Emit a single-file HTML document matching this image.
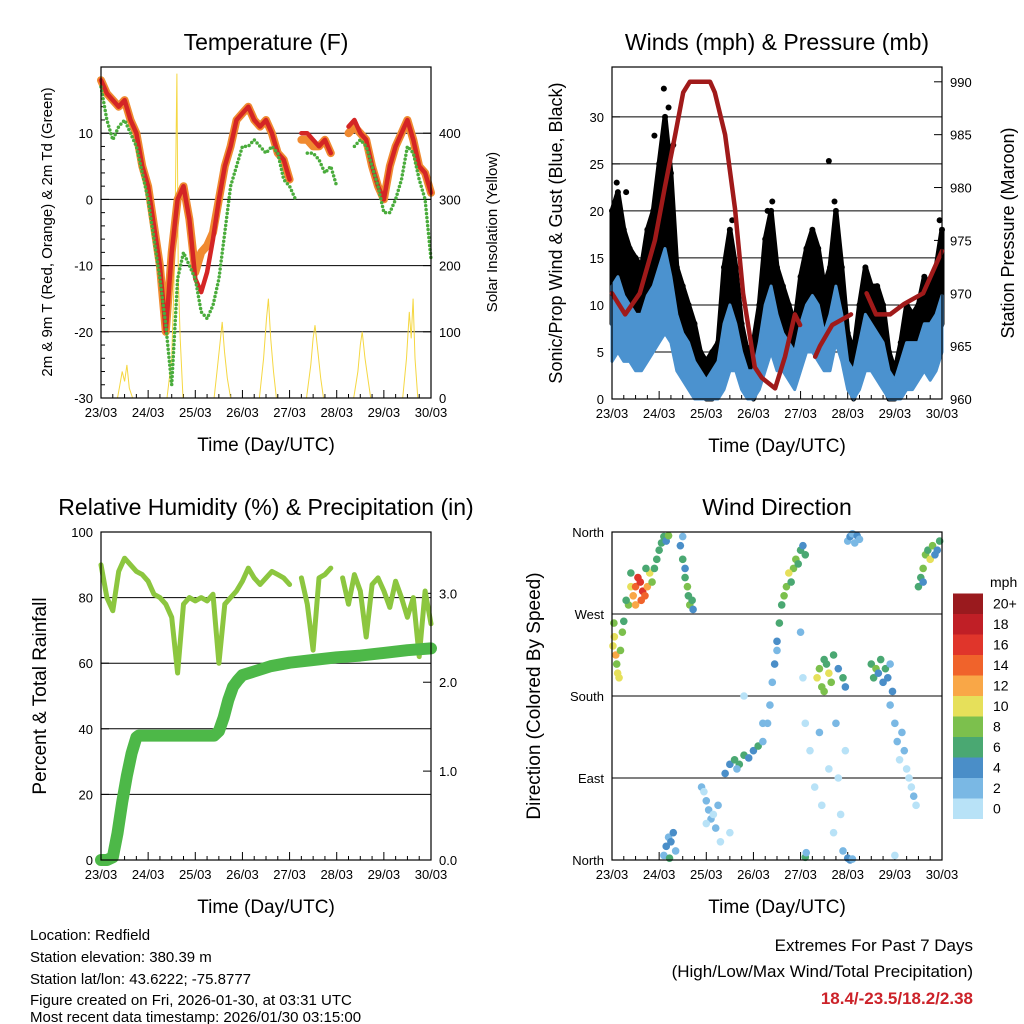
<!DOCTYPE html>
<html><head><meta charset="utf-8"><style>
body{margin:0;background:#fff}
svg{display:block;font-family:"Liberation Sans",sans-serif}
</style></head><body>
<svg id="fig" width="1024" height="1024" viewBox="0 0 1024 1024" xmlns="http://www.w3.org/2000/svg">
<g id="g1"></g>
<g id="g2"></g>
<g id="g3"></g>
<g id="g4"></g>
<g font-size="15" fill="#000">
<text x="30" y="940">Location: Redfield</text>
<text x="30" y="962">Station elevation: 380.39 m</text>
<text x="30" y="984">Station lat/lon: 43.6222; -75.8777</text>
<text x="30" y="1005">Figure created on Fri, 2026-01-30, at 03:31 UTC</text>
<text x="30" y="1026" dy="-4">Most recent data timestamp: 2026/01/30 03:15:00</text>
</g>
<g font-size="17" text-anchor="end">
<text x="973" y="951">Extremes For Past 7 Days</text>
<text x="973" y="977">(High/Low/Max Wind/Total Precipitation)</text>
<text x="973" y="1004" fill="#cc2229" font-weight="bold">18.4/-23.5/18.2/2.38</text>
</g>
</svg>
<script>
// ---------- data ----------
const dayLabels = ["23/03","24/03","25/03","26/03","27/03","28/03","29/03","30/03"];
const tempT = [0,0.125,0.25,0.375,0.5,0.625,0.75,0.875,1,1.125,1.25,1.375,1.5,1.625,1.75,1.875,2,2.125,2.25,2.375,2.5,2.625,2.75,2.875,3,3.125,3.25,3.375,3.5,3.625,3.75,3.875,4,4.125,4.25,4.375,4.5,4.625,4.75,4.875,5,5.125,5.25,5.375,5.5,5.625,5.75,5.875,6,6.125,6.25,6.375,6.5,6.625,6.75,6.875,7];
const temp2m = [18,16,15,14,15,12,10,5,2,-4,-10,-20,-8,0,2,-3,-12,-14,-11,-6,0,5,8,12,13,14,12,11,12,10,7,6,3,null,10,10,9,8,9,7,null,null,11,12,10,9,5,2,0,5,8,10,12,9,5,4,1];
const temp9m = [18,16,15,14,15,12,10,5,2,-4,-10,-20,-8,0,2,-3,-11,-8,-7,-5,0,5,8,12,13,14,12,11,12,10,7,6,3,null,9,9,8,8,9,7,null,null,10,11,10,9,5,2,0,5,8,10,12,9,5,4,1];
const dew2m = [17,12,9,11,12,10,8,4,0,-6,-12,-19,-28,-12,-8,-10,-12,-17,-18,-16,-12,-5,2,5,8,8,9,8,7,8,7,3,2,0,null,7,7,6,4,5,2,null,null,8,9,8,5,2,-2,-2,0,3,8,7,3,0,-9];
const solarT = [0.35,0.4,0.45,0.5,0.55,0.6,0.67, 1.4,1.5,1.56,1.61,1.64,1.68,1.74, 2.4,2.46,2.52,2.57,2.62,2.68,2.75, 3.36,3.45,3.51,3.55,3.6,3.66,3.72, 4.36,4.45,4.5,4.54,4.6,4.66,4.72, 5.36,5.45,5.5,5.54,5.6,5.66,5.72, 6.4,6.48,6.54,6.58,6.62,6.66,6.72];
const solarV = [0,20,40,25,50,15,0, 0,60,200,490,180,90,0, 0,40,80,115,70,30,0, 0,60,120,150,90,40,0, 0,50,90,110,70,30,0, 0,40,80,100,60,30,0, 0,60,130,90,150,60,0];
const gustHi = [20,22,18,16,15,14,18,20,25,30,24,14,12,10,8,5,4,5,6,14,18,14,8,5,6,10,17,20,14,12,10,8,13,16,18,16,12,14,20,14,7,5,10,14,12,12,10,5,3,6,10,9,10,13,12,14,18];
const gustLo = [8,9,8,7,6,6,7,8,10,12,10,6,5,3,1,0.5,0,0,1,3,5,6,3,1,0,2,5,8,6,5,3,3,5,8,8,7,5,6,10,6,2,0,3,5,5,4,2,0,0,1,3,3,3,5,4,6,8];
const sonicHi = [12,13,11,10,9,9,11,12,14,16,13,9,7,6,4,3,2,3,4,8,10,8,5,3,3,6,10,12,9,7,6,5,8,10,11,10,7,9,12,9,4,3,6,9,8,7,6,3,2,4,6,6,6,8,8,9,11];
const sonicLo = [4,5,4,4,3,3,4,5,6,7,6,3,2,1,0,0,0,0,0,1,3,3,1,0,0,1,3,5,3,3,2,1,3,5,5,4,3,3,6,4,1,0,1,3,3,2,1,0,0,0,1,1,2,3,2,3,5];
const gustPeakT = [0.1,0.3,0.9,1.05,1.1,1.2,1.3,2.55,3.3,3.4,4.6,4.72,6.95];
const gustPeakV = [23,22,28,26,33,31,27,19,20,21,25.3,21,19];
const presT = [0,0.28,0.59,0.91,1.12,1.34,1.51,1.65,2.08,2.18,2.4,2.61,2.78,3.03,3.18,3.46,3.67,3.88,3.99,null,4.31,4.41,4.67,5.07,null,5.4,5.6,5.9,6.2,6.6,7.0];
const presV = [970,968,970,975,980,985,989,990,990,989,985,978,970,963,962,961,964,968,967,null,964,965,967,968,null,970,968,968,969,970,974];
const rhV = [90,80,76,88,92,90,88,87,85,81,80,78,74,57,78,80,79,80,79,81,60,78,80,82,85,89,86,84,86,88,87,86,84,null,86,78,64,86,87,89,null,86,78,87,82,68,84,86,82,77,85,80,74,80,62,82,72];
const precT = [0,0.125,0.25,0.35,0.45,0.55,0.65,0.75,0.8,2.4,2.5,2.6,2.7,2.8,2.9,3.0,3.3,3.6,4.0,4.5,5.0,5.5,6.0,6.5,7.0];
const precV = [0,0,0.03,0.3,0.65,0.95,1.2,1.38,1.4,1.4,1.45,1.6,1.8,1.95,2.02,2.08,2.13,2.18,2.22,2.25,2.28,2.3,2.33,2.36,2.38];
const dirT = [0.02,0.05,0.08,0.1,0.12,0.15,0.18,0.22,0.04,0.25,
0.35,0.4,0.45,0.5,0.55,0.6,0.65,0.7,0.75,0.8,0.85,0.5,0.62,0.72,0.9,0.95,0.4,0.3,
1.0,1.05,1.1,1.15,1.2, 1.45,1.5,1.55,1.6,1.62,1.65,1.7,1.55,1.72,1.5,
1.1,1.15,1.2,1.25,1.3,1.35,1.22, 1.9,1.95,2.0,2.05,2.1,2.15,2.2,2.25,2.0,2.3,
2.4,2.5,2.6,2.7,2.8,2.9,3.0,3.1,3.2,2.65, 3.3,3.35,3.4,3.45,3.5,3.55,3.6,3.65,3.7,3.5,
3.8,3.85,3.9,3.95,4.0,4.05,4.1,3.75,4.1,4.12,
4.35,4.4,4.45,4.5,4.55,4.6,4.65,4.7,4.8,4.9,4.95,4.5,
4.2,4.3,4.4,4.45,4.6,4.7,4.75,4.8,4.85,4.9,4.95,
5.0,5.05,5.1,5.15,5.2,5.25,5.0,5.05,5.1,
5.5,5.55,5.6,5.65,5.7,5.75,5.8,5.85,5.9,5.95,
5.9,6.0,6.05,6.1,6.15,6.2,6.25,6.3,6.35,6.4,6.0,6.45,
6.5,6.55,6.6,6.65,6.7,6.75,6.8,6.85,6.9,6.95,6.6,
2.8,3.2,2.5,4.0,4.05,4.1];
const dirD = [235,245,225,215,205,200,230,250,260,262,
280,300,290,300,310,305,295,290,300,315,305,280,285,320,320,330,315,285,
340,348,355,350,356, 345,330,310,300,290,280,285,320,275,355,
5,15,25,20,30,10,2, 80,75,65,55,45,50,35,60,40,20,
95,105,110,105,115,112,120,125,130,100, 150,170,195,215,240,260,280,290,300,230,
305,320,330,325,340,345,335,315,3,8,
200,210,190,220,215,205,195,225,210,200,190,185,
120,80,140,60,100,30,150,90,50,10,120,
350,355,358,348,356,352,2,0,1,
215,200,210,205,220,195,210,200,215,185,
170,150,130,110,140,120,100,90,80,70,5,60,
300,310,320,335,340,330,345,335,340,350,305,
180,150,30,250,200,150];
const dirS = [10,11,12,9,10,11,8,9,8,7,
8,10,12,14,16,17,16,14,12,10,8,12,15,6,6,7,6,6,
7,6,7,5,8, 4,6,7,8,6,9,7,5,4,3,
3,4,3,5,4,3,6, 2,1,3,2,3,1,2,3,1,0,
4,5,6,7,6,5,4,6,3,3, 3,2,3,4,5,6,7,8,9,3,
7,8,9,7,6,5,7,10,6,2,
10,8,9,7,6,10,8,7,5,6,4,9,
1,0,2,1,1,0,2,1,0,2,1,
3,4,2,3,4,2,4,4,3,
7,6,8,5,7,4,6,5,3,4,
2,3,2,1,3,2,1,1,0,2,1,0,
6,7,8,9,7,10,8,5,4,6,5,
1,2,0,2,1,1];
const speedLabels = ["0","2","4","6","8","10","12","14","16","18","20+"];
const speedColors = ["#b8e2f7","#7ab8e4","#4a8ec8","#4aa872","#7cc04d","#e6e05a","#f9a747","#f0632b","#e0352b","#c01f26","#9a1a1e"];

// ---------- helpers ----------
const NS="http://www.w3.org/2000/svg";
function mk(parent,tag,attrs,text){const e=document.createElementNS(NS,tag);for(const k in attrs)e.setAttribute(k,attrs[k]);if(text!==undefined)e.textContent=text;parent.appendChild(e);return e;}
function lin(d0,d1,p0,p1){return v=>p0+(v-d0)*(p1-p0)/(d1-d0);}
function pathFrom(ts,vs,sx,sy){let d="",pen=false;for(let i=0;i<ts.length;i++){if(vs[i]===null||ts[i]===null){pen=false;continue;}d+=(pen?"L":"M")+sx(ts[i]).toFixed(1)+","+sy(vs[i]).toFixed(1);pen=true;}return d;}

function frame(g,L,T,R,B,opts){
  const sx=lin(0,7,L,R);
  for(let i=0;i<=28;i++){const x=sx(i/4);const len=i%4===0?8:4;
    const t=mk(g,"line",{x1:x,y1:B,x2:x,y2:B-len,stroke:"#000","stroke-width":1});
    }
  dayLabels.forEach((lab,i)=>{const t=mk(g,"text",{x:sx(i),y:B+19,"font-size":13,"text-anchor":"middle"},lab);
    });
  const xt=mk(g,"text",{x:(L+R)/2,y:B+59,"font-size":19,"text-anchor":"middle",dy:"-6"},"Time (Day/UTC)");
  
  const tt=mk(g,"text",{x:opts.tx,y:T-17,"font-size":23,"text-anchor":"middle"},opts.title);
  
  return sx;
}
function border(g,L,T,R,B){const r=mk(g,"rect",{x:L,y:T,width:R-L,height:B-T,fill:"none",stroke:"#000","stroke-width":1.2});
  }
function yAxis(g,vals,labels,sy,L,R,side,grid,minor){
  vals.forEach((v,i)=>{const y=sy(v);
    if(grid){const gl=mk(g,"line",{x1:L,y1:y,x2:R,y2:y,stroke:"#000","stroke-width":1});}
    const x0=side==="left"?L:R;const dir=side==="left"?1:-1;
    const tk=mk(g,"line",{x1:x0,y1:y,x2:x0+dir*8,y2:y,stroke:"#000"});
    const tl=mk(g,"text",{x:side==="left"?L-8:R+8,y:y+5,"font-size":13,"text-anchor":side==="left"?"end":"start"},labels[i]);
    });
  (minor||[]).forEach(v=>{const y=sy(v);const x0=side==="left"?L:R;const dir=side==="left"?1:-1;
    const tk=mk(g,"line",{x1:x0,y1:y,x2:x0+dir*4,y2:y,stroke:"#000"});});
}
function vtext(g,x,y,txt,name){const t=mk(g,"text",{x:x,y:y,"font-size":17,"text-anchor":"middle",transform:`rotate(-90 ${x} ${y})`},txt);
  return t;}

// ---------- panel 1: temperature ----------
(function(){
  const g=document.getElementById("g1");const L=101,T=67,R=431,B=398;
  const sx=frame(g,L,T,R,B,{title:"Temperature (F)",tx:266});
  const sy=lin(-30,20,B,T);const sy2=lin(0,500,B,T);
  yAxis(g,[-30,-20,-10,0,10],["-30","-20","-10","0","10"],sy,L,R,"left",false,[-28,-26,-24,-22,-18,-16,-14,-12,-8,-6,-4,-2,2,4,6,8,12,14,16,18]);
  [-20,-10,0,10].forEach(v=>{const gl=mk(g,"line",{x1:L,y1:sy(v),x2:R,y2:sy(v),stroke:"#000"});});
  yAxis(g,[0,100,200,300,400],["0","100","200","300","400"],sy2,L,R,"right",false);
  vtext(g,52,232,"2m & 9m T (Red, Orange) & 2m Td (Green)","y-axis-title").setAttribute("font-size","15");
  vtext(g,497,232,"Solar Insolation (Yellow)","y2-axis-title").setAttribute("font-size","15");
  const s=mk(g,"path",{d:pathFrom(solarT,solarV,sx,sy2),fill:"none",stroke:"#f5d742","stroke-width":1});
  
  const o=mk(g,"path",{d:pathFrom(tempT,temp9m,sx,sy),fill:"none",stroke:"#f08a30","stroke-width":8,"stroke-linejoin":"round","stroke-linecap":"round"});
  
  const r=mk(g,"path",{d:pathFrom(tempT,temp2m,sx,sy),fill:"none",stroke:"#d42525","stroke-width":4.5,"stroke-linejoin":"round","stroke-linecap":"round"});
  
  const d=mk(g,"path",{d:pathFrom(tempT,dew2m,sx,sy),fill:"none",stroke:"#4aac3c","stroke-width":3.5,"stroke-dasharray":"0 4","stroke-linecap":"round"});
  
  border(g,L,T,R,B);
})();

// ---------- panel 2: winds & pressure ----------
(function(){
  const g=document.getElementById("g2");const L=612,T=67,R=942,B=399;
  const sx=frame(g,L,T,R,B,{title:"Winds (mph) & Pressure (mb)",tx:777});
  const sy=lin(0,35.3,B,T);const sy2=lin(960,991.4,B,T);
  yAxis(g,[0,5,10,15,20,25,30],["0","5","10","15","20","25","30"],sy,L,R,"left",true);
  yAxis(g,[960,965,970,975,980,985,990],["960","965","970","975","980","985","990"],sy2,L,R,"right",false);
  vtext(g,562,233,"Sonic/Prop Wind & Gust (Blue, Black)","y-axis-title").setAttribute("font-size","18");
  vtext(g,1014,233,"Station Pressure (Maroon)","y2-axis-title").setAttribute("font-size","18");
  function band(lo,hi,col,name,w){let d="";for(let i=0;i<tempT.length;i++)d+=(i?"L":"M")+sx(tempT[i]).toFixed(1)+","+sy(hi[i]).toFixed(1);
    for(let i=tempT.length-1;i>=0;i--)d+="L"+sx(tempT[i]).toFixed(1)+","+sy(lo[i]).toFixed(1);d+="Z";
    const p=mk(g,"path",{d:d,fill:col,stroke:col,"stroke-width":w,"stroke-linejoin":"round"});}
  band(gustLo,gustHi,"#000","gust-band",5);
  tempT.forEach((t,i)=>{const c=mk(g,"circle",{cx:sx(t),cy:sy(gustHi[i]),r:3,fill:"#000"});});
  gustPeakT.forEach((t,i)=>{const c=mk(g,"circle",{cx:sx(t),cy:sy(gustPeakV[i]),r:3,fill:"#000"});});
  band(sonicLo,sonicHi,"#4b92cf","sonic-wind-band",3);
  const p=mk(g,"path",{d:pathFrom(presT,presV,sx,sy2),fill:"none",stroke:"#a01a1a","stroke-width":4.5,"stroke-linejoin":"round","stroke-linecap":"round"});
  
  border(g,L,T,R,B);
})();

// ---------- panel 3: RH & precipitation ----------
(function(){
  const g=document.getElementById("g3");const L=101,T=532,R=431,B=860;
  const sx=frame(g,L,T,R,B,{title:"Relative Humidity (%) & Precipitation (in)",tx:266});
  const sy=lin(0,100,B,T);const sy2=lin(0,3.69,B,T);
  yAxis(g,[0,20,40,60,80,100],["0","20","40","60","80","100"],sy,L,R,"left",false);
  [20,40,60,80].forEach(v=>{const gl=mk(g,"line",{x1:L,y1:sy(v),x2:R,y2:sy(v),stroke:"#000"});});
  yAxis(g,[0,1,2,3],["0.0","1.0","2.0","3.0"],sy2,L,R,"right",false);
  vtext(g,46,696,"Percent & Total Rainfall","y-axis-title").setAttribute("font-size","19");
  const h=mk(g,"path",{d:pathFrom(tempT,rhV,sx,sy),fill:"none",stroke:"#8cc63f","stroke-width":5,"stroke-linejoin":"round","stroke-linecap":"round"});
  
  const pr=mk(g,"path",{d:pathFrom(precT,precV,sx,sy2),fill:"none",stroke:"#4db848","stroke-width":12,"stroke-linejoin":"round","stroke-linecap":"round"});
  
  border(g,L,T,R,B);
})();

// ---------- panel 4: wind direction ----------
(function(){
  const g=document.getElementById("g4");const L=612,T=532,R=942,B=860;
  const sx=frame(g,L,T,R,B,{title:"Wind Direction",tx:777});
  const sy=lin(0,360,B,T);
  yAxis(g,[0,90,180,270,360],["North","East","South","West","North"],sy,L,R,"left",false);
  [90,180,270].forEach(v=>{const gl=mk(g,"line",{x1:L,y1:sy(v),x2:R,y2:sy(v),stroke:"#000"});});
  vtext(g,540,696,"Direction (Colored By Speed)","y-axis-title").setAttribute("font-size","19");
  dirT.forEach((t,i)=>{const idx=Math.min(10,Math.floor(dirS[i]/2));
    const c=mk(g,"circle",{cx:sx(t),cy:sy(dirD[i]),r:3.8,fill:speedColors[idx]});
    });
  border(g,L,T,R,B);
  const lg=mk(g,"g",{});
  const u=mk(lg,"text",{x:990,y:587,"font-size":14},"mph");
  speedColors.forEach((c,i)=>{const y=819-(i+1)*20.5;
    const r=mk(lg,"rect",{x:953,y:y,width:30,height:20.5,fill:c});
    const t=mk(lg,"text",{x:993,y:y+15,"font-size":14},speedLabels[i]);});
})();
</script>
</body></html>
